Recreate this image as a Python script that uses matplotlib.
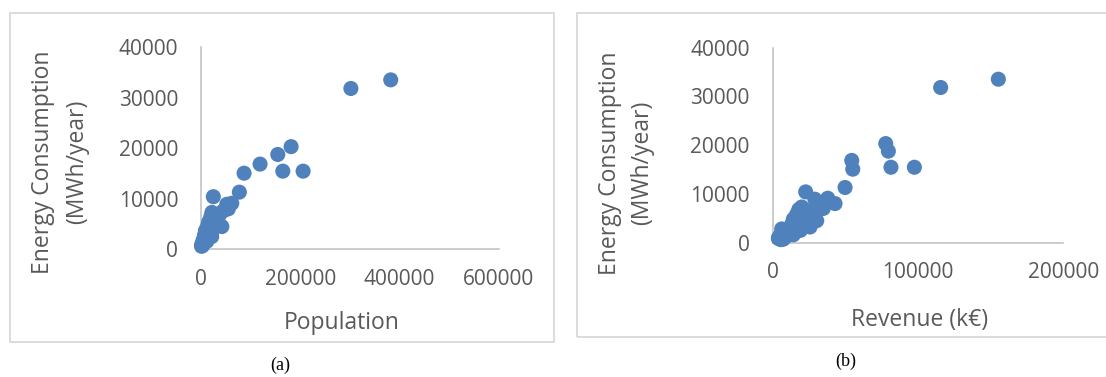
import matplotlib
matplotlib.use("Agg")
import matplotlib.pyplot as plt
from matplotlib.patches import Rectangle

# ---- data ----
energy = [33500, 31800, 20300, 18750, 15450, 15450, 16850, 15050, 11300, 10400,
          9100, 8900, 8000, 7600, 7300, 7000, 6800, 6500, 6200, 5800,
          5500, 5200, 4800, 4500, 4300, 4000, 3700, 3500, 3200, 3000,
          2800, 2600, 2500, 2200, 2000, 1800, 1600, 1400, 1200, 1000,
          850, 700, 600]
population = [382000, 301800, 181400, 154600, 164700, 205600, 118900, 86700, 77200, 24800,
              62000, 52000, 55000, 45000, 22000, 38000, 30000, 20000, 34000, 25000,
              16000, 28000, 14000, 42000, 20000, 12000, 9000, 22000, 11500, 15000,
              7000, 18000, 21500, 6000, 9000, 4700, 12000, 3000, 5000, 2000,
              1400, 3000, 1000]
revenue = [155300, 115600, 77800, 79600, 81400, 97500, 54400, 55100, 49800, 22700,
           37900, 29000, 42900, 31000, 20000, 34800, 18000, 24000, 27000, 16500,
           22000, 26000, 14200, 30300, 20000, 17000, 13000, 24000, 25700, 11900,
           6200, 15000, 19000, 10000, 12000, 8000, 14200, 5000, 9000, 4000,
           3900, 7300, 5500]

y_ticks = [0, 10000, 20000, 30000, 40000]
x_ticks_a = [0, 200000, 400000, 600000]
x_ticks_b = [0, 100000, 200000]
y_title = ["Energy Consumption", "(MWh/year)"]
x_title_a = "Population"
x_title_b = "Revenue (k\u20ac)"
captions = ["(a)", "(b)"]

W, H = 1106, 377
fig = plt.figure(figsize=(W / 100, H / 100), dpi=100)
plt.rcParams['font.family'] = ['Open Sans', 'DejaVu Sans']

TXT = "#595959"
AX = "#BFBFBF"
BLUE = "#4F81BD"


def fx(x):
    return x / W


def fy(y):
    return 1 - y / H


def frame(x0, y0, x1, y1):
    fig.add_artist(Rectangle((fx(x0), fy(y1)), fx(x1) - fx(x0), fy(y0) - fy(y1),
                             transform=fig.transFigure, fill=False,
                             edgecolor="#D9D9D9", lw=1.3))


def make_axes(x0, x1, y0, y1, xdata, xticks):
    ax = fig.add_axes([fx(x0), fy(y0), fx(x1) - fx(x0), fy(y1) - fy(y0)])
    ax.scatter(xdata, energy, s=118, color=BLUE, edgecolors="none",
               clip_on=False, zorder=3)
    ax.set_xlim(xticks[0], xticks[-1])
    ax.set_ylim(y_ticks[0], y_ticks[-1])
    ax.set_xticks(xticks)
    ax.set_yticks(y_ticks)
    ax.set_xticklabels([str(v) for v in xticks])
    ax.set_yticklabels([str(v) for v in y_ticks])
    for s in ("top", "right"):
        ax.spines[s].set_visible(False)
    for s in ("left", "bottom"):
        ax.spines[s].set_color(AX)
        ax.spines[s].set_linewidth(1.1)
        ax.spines[s].set_zorder(1)
    ax.tick_params(axis="both", length=0, labelsize=15, labelcolor=TXT)
    ax.tick_params(axis="y", pad=16.5)
    ax.tick_params(axis="x", pad=14)
    ax.patch.set_alpha(0)
    return ax


# panel (a)
frame(10, 13, 554, 342)
make_axes(201, 499, 249.3, 47, population, x_ticks_a)
fig.text(fx(43), fy(162), y_title[0], rotation=90, ha="center", va="center",
         fontsize=16.5, color=TXT)
fig.text(fx(77), fy(162), y_title[1], rotation=90, ha="center", va="center",
         fontsize=16.5, color=TXT)
fig.text(fx(342), fy(322.7), x_title_a, ha="center", va="center",
         fontsize=16.5, color=TXT)
fig.text(fx(280), fy(365), captions[0], ha="center", va="center",
         fontsize=13, family="Liberation Serif", color="black")

# panel (b)
frame(577, 13, 1112, 337)
make_axes(772.7, 1063.3, 242.6, 47.5, revenue, x_ticks_b)
fig.text(fx(610), fy(163), y_title[0], rotation=90, ha="center", va="center",
         fontsize=16.5, color=TXT)
fig.text(fx(642), fy(163), y_title[1], rotation=90, ha="center", va="center",
         fontsize=16.5, color=TXT)
fig.text(fx(920), fy(320), x_title_b, ha="center", va="center",
         fontsize=16.5, color=TXT)
fig.text(fx(846), fy(361), captions[1], ha="center", va="center",
         fontsize=13, family="Liberation Serif", color="black")

fig.savefig("out.png", dpi=100)
